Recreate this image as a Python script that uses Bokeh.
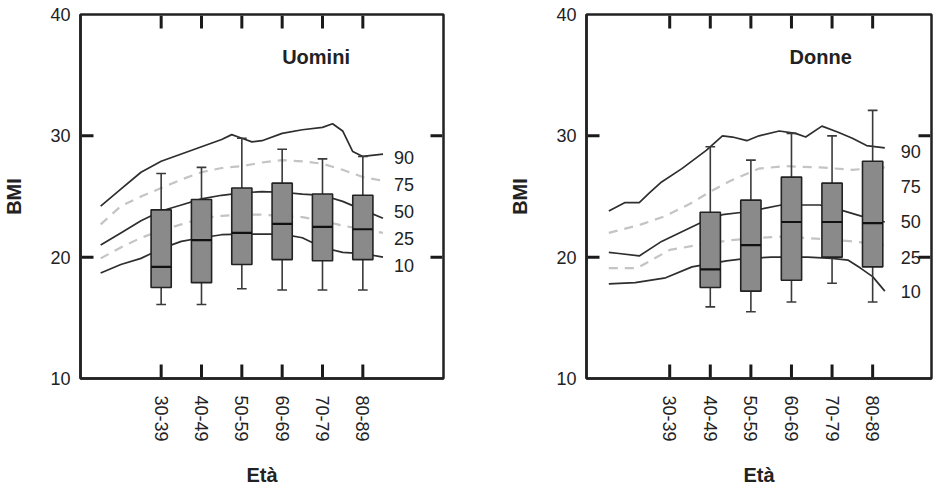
from bokeh.plotting import figure
from bokeh.models import FixedTicker, LinearAxis, Range1d, ColumnDataSource
from bokeh.layouts import row
from bokeh.embed import file_html
from bokeh.resources import INLINE
from bokeh.core.properties import value

# ---------------- data ----------------
AGE_GROUPS = ["30-39", "40-49", "50-59", "60-69", "70-79", "80-89"]
GROUP_MID = [35, 45, 55, 65, 75, 85]
Y_TICKS = [10, 20, 30, 40]
PCT_LABELS = ["90", "75", "50", "25", "10"]

# Uomini (men) box plots
M_GROUPS = ["30-39", "40-49", "50-59", "60-69", "70-79", "80-89"]
M_LOW = [16.1, 16.1, 17.4, 17.3, 17.3, 17.3]
M_Q1 = [17.5, 17.9, 19.4, 19.8, 19.7, 19.8]
M_MED = [19.2, 21.4, 22.0, 22.75, 22.5, 22.3]
M_Q3 = [23.9, 24.75, 25.7, 26.1, 25.2, 25.1]
M_HIGH = [26.9, 27.4, 29.8, 28.9, 28.1, 28.3]

# Uomini reference percentile curves (age, BMI)
M_P90_AGE = [20, 25, 30, 35, 40, 45, 50, 52.5, 55, 57.5, 60, 65, 70, 75, 77.5, 80, 82.5, 85, 90]
M_P90 = [24.2, 25.6, 27.0, 27.9, 28.5, 29.1, 29.7, 30.1, 29.8, 29.5, 29.6, 30.2, 30.5, 30.7, 31.0, 30.4, 28.7, 28.3, 28.5]
M_AGE = [20, 25, 30, 35, 40, 45, 50, 55, 60, 65, 70, 75, 80, 85, 90]
M_P75 = [22.7, 24.2, 25.0, 25.7, 26.4, 27.0, 27.35, 27.5, 27.8, 28.0, 27.9, 27.7, 27.2, 26.6, 26.3]
M_P50 = [21.0, 22.0, 23.0, 23.8, 24.3, 24.8, 25.1, 25.3, 25.4, 25.35, 25.2, 25.1, 24.6, 23.9, 23.2]
M_P25 = [19.9, 20.8, 21.6, 22.2, 22.7, 23.2, 23.4, 23.5, 23.5, 23.4, 23.3, 23.0, 22.6, 22.3, 22.0]
M_P10 = [18.7, 19.4, 19.9, 20.7, 21.3, 21.6, 21.85, 21.9, 21.9, 21.9, 21.6, 20.8, 20.4, 20.3, 20.0]

# Donne (women) box plots
F_GROUPS = ["40-49", "50-59", "60-69", "70-79", "80-89"]
F_LOW = [15.9, 15.5, 16.3, 17.85, 16.3]
F_Q1 = [17.5, 17.2, 18.1, 20.0, 19.2]
F_MED = [19.0, 21.0, 22.9, 22.9, 22.8]
F_Q3 = [23.7, 24.7, 26.6, 26.1, 27.9]
F_HIGH = [29.1, 28.0, 30.2, 30.0, 32.1]

# Donne reference percentile curves
F_P90_AGE = [20, 24, 27.5, 30, 33, 38, 44, 48, 50.5, 54, 57, 62, 66, 68.5, 72.5, 76.5, 80, 83.5, 88]
F_P90 = [23.8, 24.5, 24.5, 25.3, 26.2, 27.3, 28.8, 30.0, 29.9, 29.6, 30.0, 30.4, 30.2, 29.9, 30.8, 30.3, 29.8, 29.2, 29.0]
F_P75_AGE = [20, 28, 34, 40, 45, 50, 57, 63.5, 72, 80, 88]
F_P75 = [22.0, 22.7, 23.4, 24.4, 25.4, 26.3, 27.3, 27.5, 27.4, 27.2, 27.4]
F_P50_AGE = [20, 22.5, 27.5, 33, 38, 43, 48, 53, 58, 62.5, 67.5, 72, 77, 82, 88]
F_P50 = [20.4, 20.3, 20.1, 21.3, 22.1, 22.9, 23.5, 23.7, 24.0, 24.3, 24.3, 24.3, 23.9, 23.4, 22.9]
F_P25_AGE = [20, 27, 35, 42, 50, 57, 63, 72, 80, 88]
F_P25 = [19.1, 19.1, 20.6, 21.0, 21.4, 21.6, 21.7, 21.5, 21.3, 21.0]
F_P10_AGE = [20, 26.5, 34, 40.5, 44, 49, 54, 60, 69, 75, 79, 82, 85, 88]
F_P10 = [17.8, 17.9, 18.3, 19.2, 19.4, 19.7, 19.9, 20.0, 20.0, 19.9, 19.75, 19.1, 18.4, 17.2]

# ---------------- layout constants ----------------
FONT = "Liberation Sans"
INK = "#222222"
FRAME_H = 364
M_LABEL_X, M_LABEL_Y = 92.7, [28.2, 26.0, 23.75, 21.5, 19.3]
F_LABEL_X, F_LABEL_Y = 91.9, [28.7, 25.8, 22.9, 20.0, 17.2]

MID = dict(zip(AGE_GROUPS, GROUP_MID))


def panel(title, title_xy, groups, low, q1, med, q3, high, curves, label_x, label_y,
          x_range, frame_w, border_l, border_r, border_t, border_b):
    ylo, yhi = 10.0, 40.0
    xlo, xhi = float(x_range[0]), float(x_range[1])
    p = figure(frame_width=frame_w, frame_height=FRAME_H,
               x_range=Range1d(xlo, xhi), y_range=Range1d(ylo, yhi),
               x_axis_type=None, y_axis_type=None,
               output_backend="svg", toolbar_location=None,
               min_border_left=border_l, min_border_right=border_r,
               min_border_top=border_t, min_border_bottom=border_b,
               background_fill_color="white", border_fill_color="white")
    p.outline_line_color = INK
    p.outline_line_width = 2.5

    left = LinearAxis(axis_label="BMI", ticker=FixedTicker(ticks=Y_TICKS))
    left.axis_line_color = INK
    left.axis_line_width = 2.5
    left.major_tick_in = 0
    left.major_tick_out = 0
    left.minor_tick_line_color = None
    left.major_label_standoff = 10
    left.major_label_text_font = FONT
    left.major_label_text_font_size = "18px"
    left.major_label_text_color = INK
    left.axis_label_text_font = FONT
    left.axis_label_text_font_size = "20px"
    left.axis_label_text_font_style = "bold"
    left.axis_label_text_color = INK
    left.axis_label_standoff = 22
    p.add_layout(left, "left")

    overrides = {float(m): g for g, m in zip(AGE_GROUPS, GROUP_MID)}
    bottom = LinearAxis(axis_label="Età", ticker=FixedTicker(ticks=GROUP_MID))
    bottom.major_label_overrides = overrides
    bottom.axis_line_color = INK
    bottom.axis_line_width = 2.5
    bottom.major_tick_in = 0
    bottom.major_tick_out = 0
    bottom.minor_tick_line_color = None
    bottom.major_label_orientation = "vertical"
    bottom.major_label_standoff = 17
    bottom.major_label_text_font = FONT
    bottom.major_label_text_font_size = "18px"
    bottom.major_label_text_color = INK
    bottom.axis_label_text_font = FONT
    bottom.axis_label_text_font_size = "20px"
    bottom.axis_label_text_font_style = "bold"
    bottom.axis_label_text_color = INK
    bottom.axis_label_standoff = 19
    p.add_layout(bottom, "below")

    # inward tick marks as short multi-line strokes inside the frame
    tick_y = 1.15
    tick_x = 13 * (xhi - xlo) / frame_w
    txs, tys = [], []
    for m in GROUP_MID:
        txs.append([float(m), float(m)]); tys.append([ylo + 0.1, ylo + tick_y])
        txs.append([float(m), float(m)]); tys.append([yhi - 0.1, yhi - tick_y])
    for t in Y_TICKS[1:-1]:
        txs.append([xlo + 0.3, xlo + tick_x]); tys.append([float(t), float(t)])
        txs.append([xhi - 0.3, xhi - tick_x]); tys.append([float(t), float(t)])
    p.multi_line(xs=txs, ys=tys, line_color="#1a1a1a", line_width=3)

    # percentile reference curves (behind boxes)
    for (ages, vals, dashed) in curves:
        if dashed:
            p.line(ages, vals, line_color="#c4c4c4", line_width=2.2, line_dash="9 7")
        else:
            p.line(ages, vals, line_color="#2e2e2e", line_width=1.7)

    xs = [MID[g] for g in groups]
    src = ColumnDataSource(dict(x=xs, low=low, q1=q1, med=med, q3=q3, high=high))
    p.segment(x0="x", y0="low", x1="x", y1="high", source=src,
              line_color="#3a3a3a", line_width=1.6)
    cap = 1.2
    p.segment(x0=[x - cap for x in xs], y0=list(low), x1=[x + cap for x in xs], y1=list(low),
              line_color="#3a3a3a", line_width=1.6)
    p.segment(x0=[x - cap for x in xs], y0=list(high), x1=[x + cap for x in xs], y1=list(high),
              line_color="#3a3a3a", line_width=1.6)
    p.vbar(x="x", width=5, bottom="q1", top="q3", source=src,
           fill_color="#8a8a8a", line_color=INK, line_width=1.6)
    p.segment(x0=[x - 2.5 for x in xs], y0=list(med), x1=[x + 2.5 for x in xs], y1=list(med),
              line_color="#111111", line_width=2.2)

    p.text(x=[label_x] * len(PCT_LABELS), y=label_y, text=PCT_LABELS,
           text_font=value(FONT), text_font_size="18px", text_color=INK,
           text_align="left", text_baseline="middle")
    p.text(x=[title_xy[0]], y=[title_xy[1]], text=[title],
           text_font=value(FONT), text_font_size="20px", text_font_style="bold",
           text_color=INK, text_align="center", text_baseline="middle")
    return p


p_m = panel("Uomini", (73.4, 36.5), M_GROUPS, M_LOW, M_Q1, M_MED, M_Q3, M_HIGH,
            [(M_P90_AGE, M_P90, False), (M_AGE, M_P75, True), (M_AGE, M_P50, False),
             (M_AGE, M_P25, True), (M_AGE, M_P10, False)],
            M_LABEL_X, M_LABEL_Y, (15, 105), 363, 74, 40, 12, 98)

p_f = panel("Donne", (72.2, 36.5), F_GROUPS, F_LOW, F_Q1, F_MED, F_Q3, F_HIGH,
            [(F_P90_AGE, F_P90, False), (F_P75_AGE, F_P75, True), (F_P50_AGE, F_P50, False),
             (F_P25_AGE, F_P25, True), (F_P10_AGE, F_P10, False)],
            F_LABEL_X, F_LABEL_Y, (14.5, 99.5), 345, 103, 4, 14, 96)

layout = row(p_m, p_f, spacing=0)

with open("out.html", "w") as f:
    f.write(file_html(layout, INLINE))
